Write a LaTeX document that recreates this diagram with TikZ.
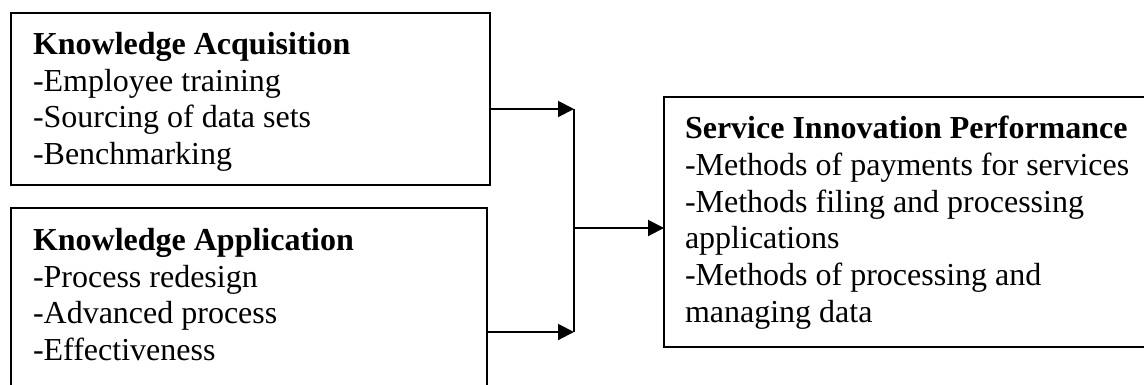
\documentclass[tikz,border=0pt]{standalone}
\usepackage{fontspec}
\setmainfont{Liberation Serif}
\usetikzlibrary{arrows.meta}
\tikzset{
  box/.style={draw, line width=2pt, inner sep=0pt, outer sep=0pt},
  txt/.style={anchor=base west, inner sep=0pt, outer sep=0pt, font=\fontsize{32}{36}\selectfont},
  hd/.style={txt, font=\fontsize{32}{36}\selectfont\bfseries},
  conn/.style={line width=2pt},
  arr/.style={conn, -{Triangle[length=16pt,width=16pt]}}
}
\begin{document}
\begin{tikzpicture}[x=1pt,y=-1pt]
\clip (0,0) rectangle (1144,384);
\fill[white] (0,0) rectangle (1144,384);
% boxes
\node[box, minimum width=479pt, minimum height=172pt] (A) at (250.5,99) {};
\node[box, minimum width=476pt, minimum height=192pt] (B) at (249,304) {};
\node[box, minimum width=496pt, minimum height=250pt] (C) at (912,222) {};
% texts
\node[hd] (a0) at (33,54) {Knowledge Acquisition};
\node[txt] (a1) at (33,91) {-Employee training};
\node[txt] (a2) at (33,127.5) {-Sourcing of data sets};
\node[txt] (a3) at (33,164) {-Benchmarking};
\node[hd] (b0) at (33,250) {Knowledge Application};
\node[txt] (b1) at (33,287) {-Process redesign};
\node[txt] (b2) at (33,323.5) {-Advanced process};
\node[txt] (b3) at (33,360) {-Effectiveness};
\node[hd] (c0) at (685,138) {Service Innovation Performance};
\node[txt] (c1) at (685,175) {-Methods of payments for services};
\node[txt] (c2) at (685,212) {-Methods filing and processing};
\node[txt] (c3) at (685,248) {applications};
\node[txt] (c4) at (685,285) {-Methods of processing and};
\node[txt] (c5) at (685,322) {managing data};
% connectors
\coordinate (t1) at (574,109);
\coordinate (t2) at (574,332);
\coordinate (j) at (574,228);
\draw[arr] (A.east |- t1) -- (t1);
\draw[arr] (B.east |- t2) -- (t2);
\draw[conn] (t1) -- (t2);
\draw[arr] (j) -- (C.west |- j);
\end{tikzpicture}
\end{document}
